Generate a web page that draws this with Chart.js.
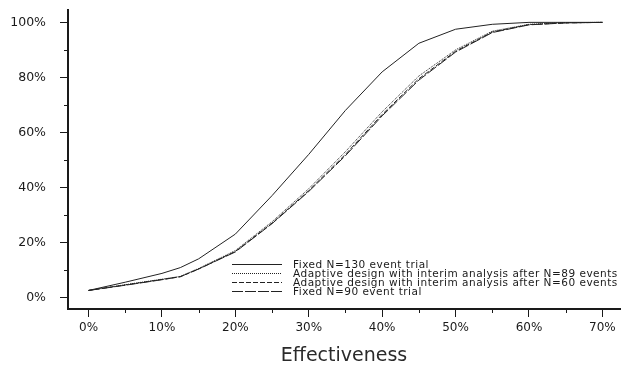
<!DOCTYPE html>
<html>
<head>
<meta charset="utf-8">
<script src="https://cdn.jsdelivr.net/npm/chart.js@4/dist/chart.umd.min.js"></script>
<style>
  html, body { margin: 0; padding: 0; background: #fff; }
  #wrap { width: 624px; height: 367px; }
</style>
</head>
<body>
<div id="wrap"><canvas id="chart"></canvas></div>
<script>
// Effectiveness (%) at which the curves were read
const effectiveness = [0, 5, 10, 12.5, 15, 20, 25, 30, 35, 40, 45, 50, 55, 60, 65, 70];

// Probability (%) for each design
const fixed130   = [2.5, 5.5, 8.7, 10.8, 14.0, 23.0, 37.0, 52.0, 68.0, 82.0, 92.4, 97.5, 99.3, 100, 100, 100];
const adaptive89 = [2.5, 4.6, 6.6, 7.6, 10.5, 17.0, 27.5, 39.5, 53.0, 67.5, 80.5, 90.0, 96.8, 99.3, 99.9, 100];
const adaptive60 = [2.5, 4.5, 6.5, 7.5, 10.3, 16.7, 27.0, 38.8, 52.0, 66.5, 79.5, 89.5, 96.5, 99.2, 99.8, 100];
const fixed90    = [2.5, 4.4, 6.4, 7.5, 10.3, 16.5, 26.8, 38.5, 51.5, 66.0, 79.0, 89.2, 96.3, 99.1, 99.8, 100];

const seriesLabels = [
  'Fixed N=130 event trial',
  'Adaptive design with interim analysis after N=89 events',
  'Adaptive design with interim analysis after N=60 events',
  'Fixed N=90 event trial'
];

// tick positions (majors get a label)
const xTickValues = [0, 5, 10, 15, 20, 25, 30, 35, 40, 45, 50, 55, 60, 65, 70];
const yTickValues = [0, 10, 20, 30, 40, 50, 60, 70, 80, 90, 100];

const FONT = 'DejaVu Sans';
const INK = '#1a1a1a';

const toPoints = ys => ys.map((y, i) => ({ x: effectiveness[i], y: y }));

const isMajorX = v => v % 10 === 0;
const isMajorY = v => v % 20 === 0;

// short minor tick marks
const minorTicks = {
  id: 'minorTicks',
  afterDraw(chart) {
    const { ctx, chartArea, scales } = chart;
    ctx.save();
    ctx.strokeStyle = INK;
    ctx.lineWidth = 1;
    scales.x.ticks.forEach(t => {
      if (isMajorX(t.value)) return;
      const px = Math.round(scales.x.getPixelForValue(t.value)) + 0.5;
      ctx.beginPath();
      ctx.moveTo(px, chartArea.bottom);
      ctx.lineTo(px, chartArea.bottom + 4);
      ctx.stroke();
    });
    scales.y.ticks.forEach(t => {
      if (isMajorY(t.value)) return;
      const py = Math.round(scales.y.getPixelForValue(t.value)) + 0.5;
      ctx.beginPath();
      ctx.moveTo(chartArea.left - 4, py);
      ctx.lineTo(chartArea.left, py);
      ctx.stroke();
    });
    ctx.restore();
  }
};

// legend sitting inside the plot, lower right
const innerLegend = {
  id: 'innerLegend',
  afterDatasetsDraw(chart) {
    const { ctx, chartArea } = chart;
    ctx.save();
    ctx.font = '10.5px "' + FONT + '"';
    ctx.letterSpacing = '0.5px';
    ctx.textBaseline = 'middle';
    ctx.fillStyle = INK;
    chart.data.datasets.forEach((ds, i) => {
      const y = Math.round(chartArea.bottom - 45 + i * 9) + 0.5;
      ctx.strokeStyle = ds.borderColor;
      ctx.lineWidth = 1;
      ctx.setLineDash(ds.borderDash || []);
      ctx.beginPath();
      ctx.moveTo(232, y);
      ctx.lineTo(282, y);
      ctx.stroke();
      ctx.setLineDash([]);
      ctx.fillText(ds.label, 293, y + 0.5);
    });
    ctx.restore();
  }
};

new Chart(document.getElementById('chart'), {
  type: 'line',
  data: {
    datasets: [
      { label: seriesLabels[0], data: toPoints(fixed130), borderColor: '#222', borderWidth: 1 },
      { label: seriesLabels[1], data: toPoints(adaptive89), borderColor: '#222', borderWidth: 1, borderDash: [1, 1] },
      { label: seriesLabels[2], data: toPoints(adaptive60), borderColor: '#222', borderWidth: 1, borderDash: [5, 2] },
      { label: seriesLabels[3], data: toPoints(fixed90), borderColor: '#222', borderWidth: 1, borderDash: [11, 2] }
    ]
  },
  options: {
    responsive: true,
    maintainAspectRatio: false,
    animation: false,
    layout: { padding: { top: 10, right: 4, left: 0, bottom: 0 } },
    elements: { point: { radius: 0 }, line: { tension: 0 } },
    plugins: { legend: { display: false }, tooltip: { enabled: false } },
    scales: {
      x: {
        type: 'linear',
        min: -2.8,
        max: 72.4,
        afterBuildTicks: s => { s.ticks = xTickValues.map(v => ({ value: v })); },
        afterFit: s => { s.height = 58; s.paddingLeft = 0; s.paddingRight = 0; },
        border: { display: true, color: INK, width: 2 },
        grid: {
          drawOnChartArea: false,
          tickLength: 8,
          tickColor: c => isMajorX(c.tick.value) ? INK : 'rgba(0,0,0,0)'
        },
        ticks: {
          color: INK,
          padding: 4,
          maxRotation: 0,
          autoSkip: false,
          font: { family: FONT, size: 12 },
          callback: v => isMajorX(v) ? v + '%' : ''
        },
        title: {
          display: true,
          text: 'Effectiveness',
          color: '#2a2a2a',
          font: { family: FONT, size: 19 },
          padding: { top: 0, bottom: 0 }
        }
      },
      y: {
        type: 'linear',
        min: -4.25,
        max: 104.5,
        afterBuildTicks: s => { s.ticks = yTickValues.map(v => ({ value: v })); },
        afterFit: s => { s.width = 68; s.paddingTop = 0; s.paddingBottom = 0; },
        border: { display: true, color: INK, width: 2 },
        grid: {
          drawOnChartArea: false,
          tickLength: 8,
          tickColor: c => isMajorY(c.tick.value) ? INK : 'rgba(0,0,0,0)'
        },
        ticks: {
          color: INK,
          padding: 14,
          autoSkip: false,
          font: { family: FONT, size: 12.5 },
          callback: v => isMajorY(v) ? v + '%' : ''
        }
      }
    }
  },
  plugins: [minorTicks, innerLegend]
});
</script>
</body>
</html>
